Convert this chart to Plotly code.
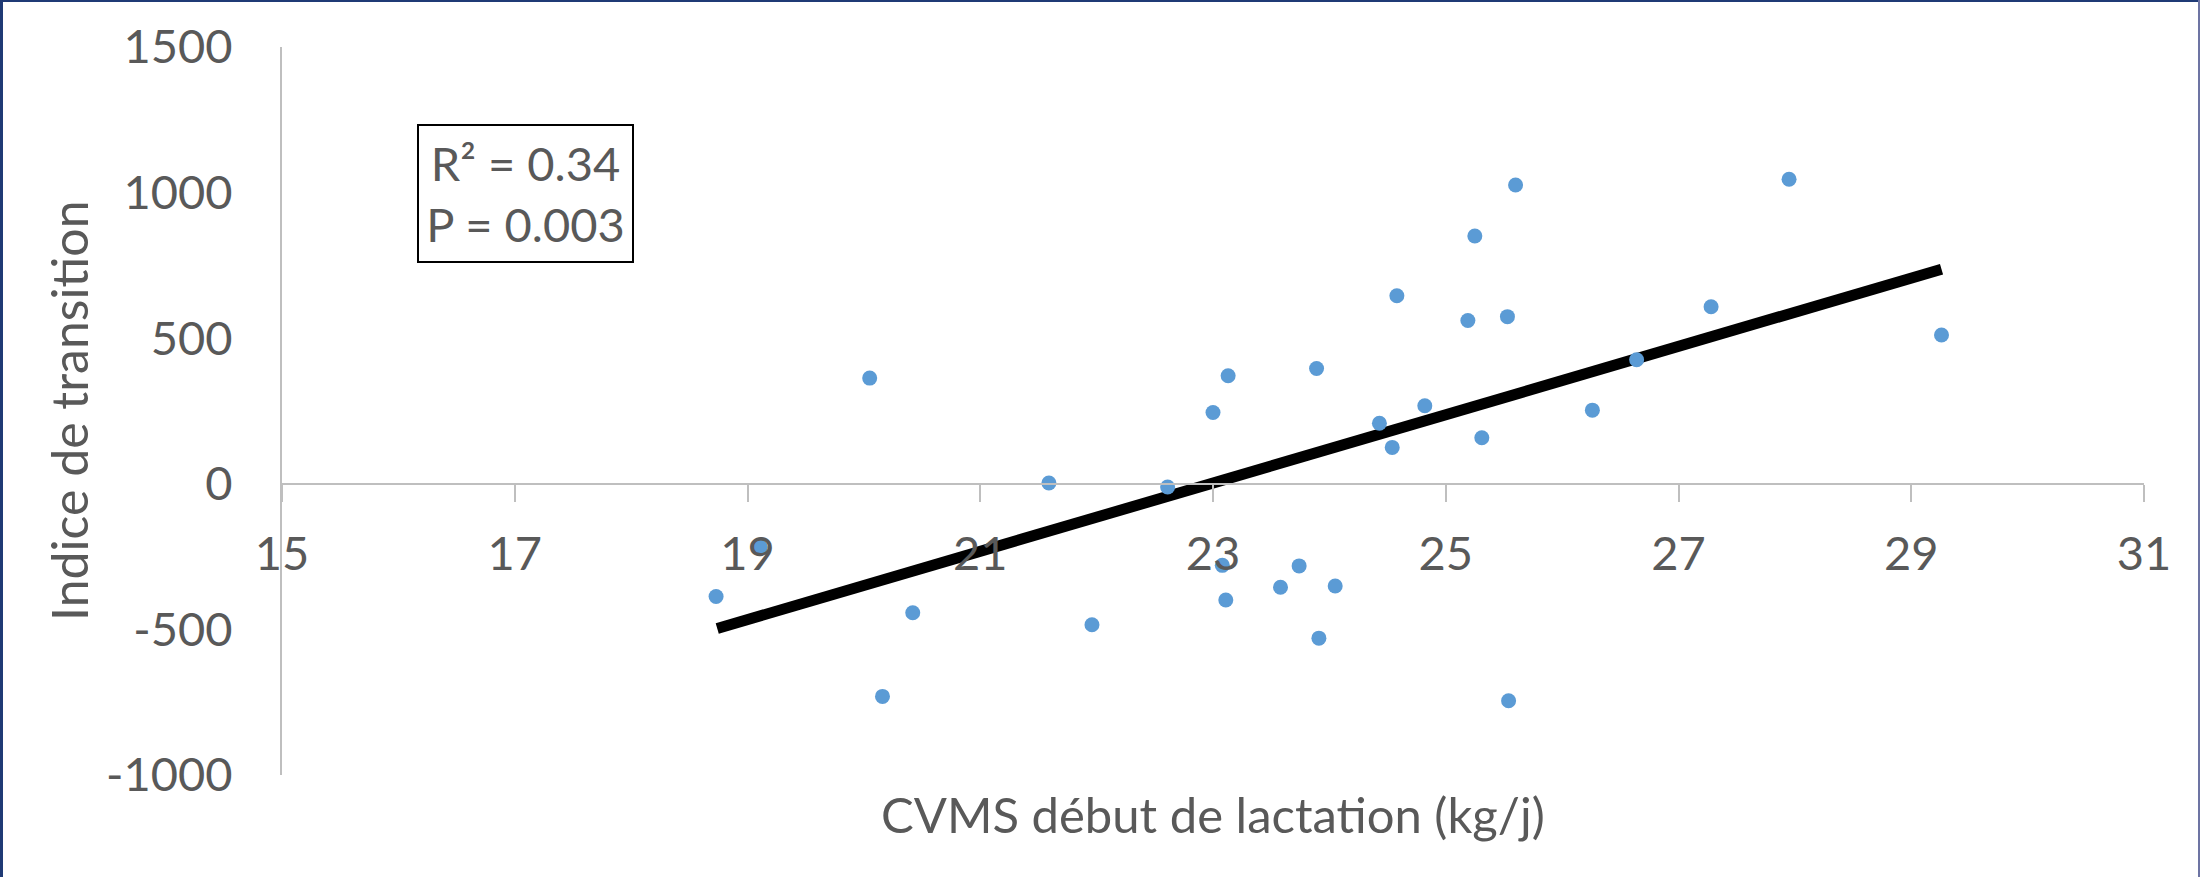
import plotly.graph_objects as go

# ---- data ----
cvms = [18.73, 19.11, 20.05, 20.16, 20.42, 21.59, 21.96, 22.61, 23.00, 23.13,
        23.08, 23.11, 23.58, 23.74, 23.89, 24.05, 23.91, 24.43, 24.54, 24.58,
        24.82, 25.19, 25.25, 25.31, 25.53, 25.60, 25.54, 26.26, 26.64, 27.28,
        27.95, 29.26]
indice = [-387, -217, 363, -730, -443, 3, -484, -11, 245, 371,
          -280, -399, -355, -282, 396, -351, -530, 208, 125, 646,
          268, 561, 851, 158, 574, 1026, -745, 253, 426, 608,
          1046, 511]
trend_x = [18.74, 29.26]
trend_y = [-497, 737]
x_ticks = [15, 17, 19, 21, 23, 25, 27, 29, 31]
y_ticks = [-1000, -500, 0, 500, 1000, 1500]
stats_text = ["R² = 0.34", "P = 0.003"]
x_title = "CVMS début de lactation (kg/j)"
y_title = "Indice de transition"

W, H = 2200, 877
ML, MR, MT, MB = 282, 56, 47, 102
PW, PH = W - ML - MR, H - MT - MB

def px_x(p):
    return (p - ML) / PW

def px_y(p):
    return (H - MB - p) / PH

FONT = "Lato"
GREY = "#595959"
AXIS = "#BFBFBF"

fig = go.Figure()
fig.add_trace(go.Scatter(
    x=trend_x, y=trend_y, mode="lines",
    line=dict(color="black", width=11),
    hoverinfo="skip", showlegend=False,
))
fig.add_trace(go.Scatter(
    x=cvms, y=indice, mode="markers",
    marker=dict(color="#5B9BD5", size=15, line=dict(width=0)),
    showlegend=False,
))

fig.update_layout(
    width=W, height=H,
    margin=dict(l=ML, r=MR, t=MT, b=MB, pad=0),
    paper_bgcolor="white", plot_bgcolor="white",
    font=dict(family=FONT, color=GREY, size=46),
    xaxis=dict(
        range=[15, 31], tickvals=x_ticks, ticktext=[str(v) for v in x_ticks],
        showgrid=False, zeroline=False,
        showline=True, linecolor=AXIS, linewidth=2,
        ticks="outside", ticklen=17, tickwidth=2, tickcolor=AXIS,
        tickfont=dict(family=FONT, size=47, color=GREY),
        ticklabelstandoff=12,
        anchor="free", position=0.4,
    ),
    yaxis=dict(
        range=[-1000, 1500], tickvals=y_ticks, ticktext=[str(v) for v in y_ticks],
        showgrid=False, zeroline=False,
        showline=True, linecolor=AXIS, linewidth=2,
        ticks="", tickfont=dict(family=FONT, size=47, color=GREY),
        ticklabelstandoff=38,
    ),
    annotations=[
        dict(text=x_title, xref="paper", yref="paper", x=0.5, y=px_y(814),
             xanchor="center", yanchor="middle", showarrow=False,
             font=dict(family=FONT, size=49, color=GREY)),
        dict(text=y_title, xref="paper", yref="paper", x=px_x(69), y=0.5,
             xanchor="center", yanchor="middle", textangle=-90, showarrow=False,
             font=dict(family=FONT, size=50, color=GREY)),
        dict(text="<br>".join(stats_text), xref="paper", yref="paper",
             x=px_x((417 + 634) / 2), y=px_y((124 + 263) / 2),
             xanchor="center", yanchor="middle", showarrow=False,
             width=213, height=135, borderpad=0, borderwidth=2,
             bordercolor="black", bgcolor="white", align="center",
             font=dict(family=FONT, size=47, color=GREY)),
    ],
    shapes=[
        dict(type="line", xref="paper", yref="paper", x0=px_x(1.5), x1=px_x(1.5),
             y0=px_y(0), y1=px_y(H), line=dict(color="#1F3A75", width=3), layer="above"),
        dict(type="line", xref="paper", yref="paper", x0=px_x(0), x1=px_x(W),
             y0=px_y(1), y1=px_y(1), line=dict(color="#1F3A75", width=2), layer="above"),
        dict(type="line", xref="paper", yref="paper", x0=px_x(W - 1), x1=px_x(W - 1),
             y0=px_y(0), y1=px_y(H), line=dict(color="#6D74A3", width=2), layer="above"),
    ],
)

fig.write_html(
    "out.html",
    config={"displayModeBar": False},
    post_script="document.body.style.margin='0';document.body.style.overflow='hidden';",
)
